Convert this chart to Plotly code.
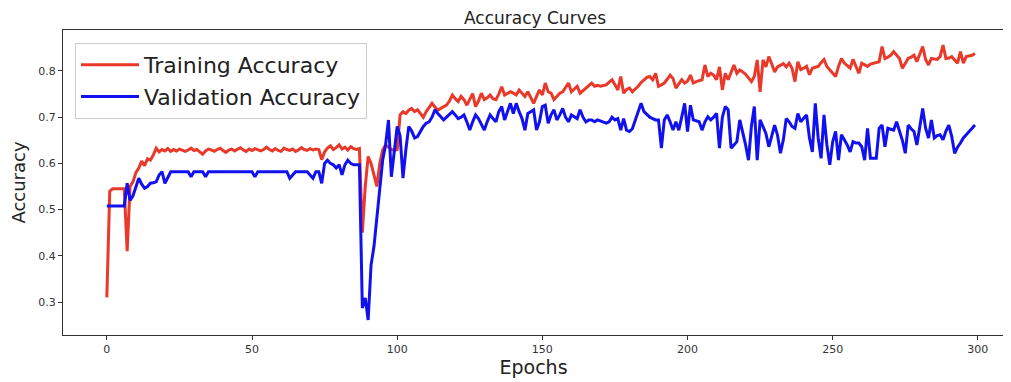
import plotly.graph_objects as go

epochs = list(range(300))

train_acc = [
    0.31, 0.54, 0.545, 0.545, 0.545, 0.545, 0.545, 0.41, 0.55, 0.56,
    0.58, 0.59, 0.605, 0.595, 0.61, 0.607, 0.618, 0.633, 0.625, 0.630,
    0.627, 0.632, 0.626, 0.630, 0.627, 0.631, 0.628, 0.626, 0.629, 0.633,
    0.628, 0.630, 0.625, 0.620, 0.627, 0.631, 0.629, 0.626, 0.630, 0.633,
    0.628, 0.624, 0.629, 0.631, 0.627, 0.630, 0.634, 0.629, 0.626, 0.631,
    0.628, 0.632, 0.629, 0.627, 0.630, 0.635, 0.630, 0.627, 0.632, 0.628,
    0.626, 0.633, 0.630, 0.628, 0.631, 0.626, 0.629, 0.634, 0.630, 0.628,
    0.632, 0.629, 0.631, 0.630, 0.608, 0.625, 0.633, 0.638, 0.630, 0.634,
    0.640, 0.631, 0.635, 0.629, 0.636, 0.632, 0.630, 0.632, 0.450, 0.550,
    0.615, 0.600, 0.575, 0.550, 0.600, 0.629, 0.640, 0.635, 0.630, 0.628,
    0.630, 0.705, 0.712, 0.708, 0.715, 0.719, 0.712, 0.716, 0.708, 0.700,
    0.712, 0.720, 0.730, 0.722, 0.715, 0.719, 0.722, 0.726, 0.735, 0.748,
    0.740, 0.734, 0.745, 0.738, 0.726, 0.740, 0.751, 0.723, 0.735, 0.752,
    0.738, 0.742, 0.748, 0.740, 0.738, 0.750, 0.766, 0.748, 0.752, 0.755,
    0.752, 0.748, 0.759, 0.752, 0.745, 0.755, 0.742, 0.730, 0.745, 0.759,
    0.748, 0.774, 0.755, 0.752, 0.738, 0.745, 0.752, 0.755, 0.764, 0.774,
    0.755, 0.760, 0.767, 0.752, 0.758, 0.763, 0.770, 0.774, 0.767, 0.769,
    0.767, 0.768, 0.770, 0.776, 0.781, 0.770, 0.759, 0.788, 0.752, 0.760,
    0.763, 0.755, 0.760, 0.767, 0.775, 0.781, 0.786, 0.788, 0.781, 0.795,
    0.767, 0.770, 0.774, 0.782, 0.791, 0.784, 0.763, 0.772, 0.781, 0.774,
    0.778, 0.791, 0.774, 0.777, 0.779, 0.781, 0.813, 0.788, 0.795, 0.791,
    0.781, 0.809, 0.759, 0.795, 0.781, 0.798, 0.813, 0.795, 0.802, 0.798,
    0.793, 0.785, 0.777, 0.788, 0.824, 0.755, 0.824, 0.809, 0.831, 0.815,
    0.798, 0.809, 0.812, 0.816, 0.809, 0.817, 0.806, 0.777, 0.820, 0.803,
    0.806, 0.810, 0.792, 0.806, 0.808, 0.810, 0.818, 0.825, 0.810, 0.803,
    0.795, 0.788, 0.810, 0.827, 0.817, 0.812, 0.806, 0.825, 0.810, 0.795,
    0.817, 0.814, 0.810, 0.815, 0.817, 0.818, 0.820, 0.853, 0.827, 0.830,
    0.834, 0.842, 0.835, 0.827, 0.806, 0.818, 0.827, 0.830, 0.834, 0.820,
    0.835, 0.853, 0.825, 0.813, 0.827, 0.826, 0.825, 0.831, 0.856, 0.827,
    0.828, 0.831, 0.824, 0.817, 0.842, 0.817, 0.831, 0.833, 0.834, 0.838,
]

val_acc = [
    0.508, 0.508, 0.508, 0.508, 0.508, 0.508, 0.508, 0.557, 0.520, 0.530,
    0.550, 0.568, 0.555, 0.546, 0.550, 0.557, 0.558, 0.560, 0.575, 0.582,
    0.557, 0.570, 0.582, 0.582, 0.582, 0.582, 0.582, 0.582, 0.582, 0.571,
    0.582, 0.582, 0.582, 0.582, 0.571, 0.582, 0.582, 0.582, 0.582, 0.582,
    0.582, 0.582, 0.582, 0.582, 0.582, 0.582, 0.582, 0.582, 0.582, 0.582,
    0.582, 0.571, 0.582, 0.582, 0.582, 0.582, 0.582, 0.582, 0.582, 0.582,
    0.582, 0.582, 0.582, 0.568, 0.575, 0.582, 0.582, 0.582, 0.582, 0.582,
    0.575, 0.568, 0.582, 0.582, 0.557, 0.600, 0.607, 0.600, 0.597, 0.590,
    0.597, 0.575, 0.597, 0.607, 0.600, 0.597, 0.597, 0.597, 0.287, 0.309,
    0.261, 0.380, 0.420, 0.480, 0.550, 0.607, 0.640, 0.694, 0.571, 0.620,
    0.680, 0.660, 0.568, 0.630, 0.680, 0.670, 0.655, 0.658, 0.670, 0.680,
    0.687, 0.690, 0.700, 0.716, 0.708, 0.700, 0.694, 0.700, 0.705, 0.712,
    0.705, 0.697, 0.700, 0.705, 0.690, 0.672, 0.690, 0.705, 0.697, 0.685,
    0.672, 0.690, 0.705, 0.697, 0.690, 0.712, 0.723, 0.694, 0.712, 0.730,
    0.708, 0.730, 0.712, 0.697, 0.672, 0.708, 0.712, 0.716, 0.672, 0.690,
    0.723, 0.726, 0.687, 0.705, 0.716, 0.694, 0.705, 0.719, 0.700, 0.690,
    0.705, 0.700, 0.697, 0.716, 0.700, 0.690, 0.694, 0.694, 0.690, 0.694,
    0.692, 0.690, 0.687, 0.690, 0.700, 0.694, 0.697, 0.672, 0.697, 0.672,
    0.669, 0.675, 0.694, 0.712, 0.730, 0.712, 0.705, 0.700, 0.697, 0.694,
    0.694, 0.633, 0.694, 0.705, 0.690, 0.672, 0.690, 0.672, 0.700, 0.730,
    0.669, 0.726, 0.694, 0.692, 0.690, 0.672, 0.690, 0.701, 0.694, 0.700,
    0.708, 0.633, 0.700, 0.723, 0.716, 0.633, 0.640, 0.647, 0.694, 0.669,
    0.640, 0.607, 0.680, 0.723, 0.607, 0.694, 0.680, 0.665, 0.636, 0.660,
    0.683, 0.661, 0.622, 0.651, 0.697, 0.690, 0.680, 0.676, 0.708, 0.690,
    0.698, 0.705, 0.655, 0.625, 0.730, 0.655, 0.611, 0.705, 0.640, 0.597,
    0.647, 0.669, 0.607, 0.662, 0.651, 0.640, 0.625, 0.647, 0.644, 0.644,
    0.636, 0.607, 0.676, 0.611, 0.611, 0.611, 0.676, 0.683, 0.636, 0.676,
    0.674, 0.672, 0.690, 0.672, 0.650, 0.622, 0.683, 0.675, 0.669, 0.640,
    0.680, 0.719, 0.676, 0.655, 0.694, 0.655, 0.660, 0.662, 0.651, 0.670,
    0.683, 0.658, 0.622, 0.635, 0.644, 0.655, 0.662, 0.669, 0.675, 0.683,
]

x_ticks = [0, 50, 100, 150, 200, 250, 300]
y_ticks = [0.3, 0.4, 0.5, 0.6, 0.7, 0.8]

FONT = "DejaVu Sans"

# the page body adds an 8px offset, so the figure is 8px smaller each way
W, H = 1003, 374

fig = go.Figure()
fig.add_trace(go.Scatter(
    x=epochs, y=train_acc, mode="lines", name="Training Accuracy",
    line=dict(color="#e8392a", width=3), legendgroup="a",
))
fig.add_trace(go.Scatter(
    x=epochs, y=val_acc, mode="lines", name="Validation Accuracy",
    line=dict(color="#1010f0", width=3), legendgroup="b",
))

axis_common = dict(
    showline=True, mirror=True, linecolor="#333", linewidth=1,
    ticks="outside", ticklen=4, tickcolor="#333", tickwidth=1,
    showgrid=False, zeroline=False,
    tickfont=dict(family=FONT, size=11, color="#333"),
)

fig.update_layout(
    width=W, height=H,
    margin=dict(l=55, r=7, t=22, b=47, autoexpand=False),
    paper_bgcolor="white", plot_bgcolor="white",
    font=dict(family=FONT, color="#222"),
    title=dict(text="Accuracy Curves", x=527 / W, xanchor="center",
               y=1 - 10 / H, yanchor="middle",
               font=dict(family=FONT, size=17, color="#222")),
    xaxis=dict(range=[-15.1, 309.0], tickvals=x_ticks,
               title=dict(text="Epochs", standoff=0,
                          font=dict(family=FONT, size=19, color="#222")),
               **axis_common),
    yaxis=dict(range=[0.2286, 0.8887], tickvals=y_ticks,
               tickformat=".1f",
               title=dict(text="Accuracy", standoff=8,
                          font=dict(family=FONT, size=18, color="#222")),
               **axis_common),
    legend=dict(x=12 / 941, y=1 - 13 / 305, xanchor="left", yanchor="top",
                bgcolor="rgba(255,255,255,0.9)", bordercolor="#cccccc",
                borderwidth=1, tracegroupgap=0, traceorder="grouped",
                font=dict(family=FONT, size=22, color="#222"),
                itemwidth=58),
    showlegend=True,
)

fig.write_html("out.html")
